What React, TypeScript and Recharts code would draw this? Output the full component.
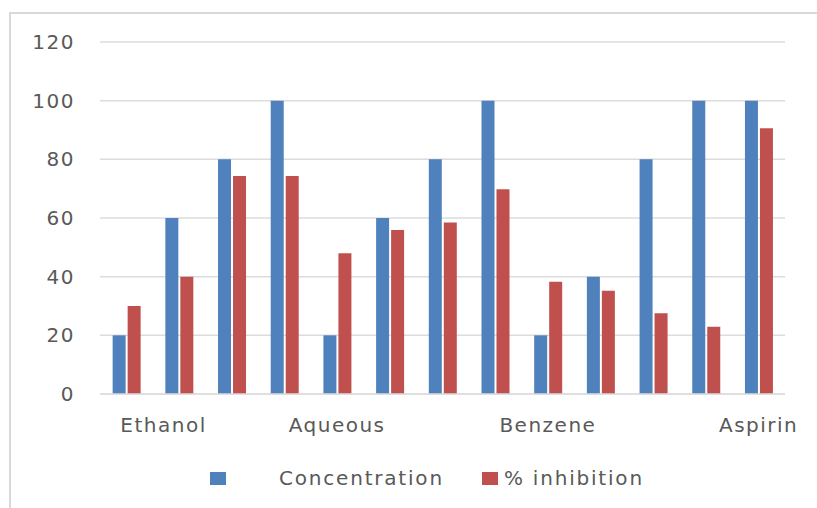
import { BarChart, Bar, XAxis, YAxis, CartesianGrid, Legend } from "recharts";

const categories = [
  "Ethanol", "", "", "",
  "Aqueous", "", "", "",
  "Benzene", "", "", "",
  "Aspirin",
];
const concentration = [20, 60, 80, 100, 20, 60, 80, 100, 20, 40, 80, 100, 100];
const inhibition = [30, 40, 74.3, 74.3, 48, 55.9, 58.5, 69.8, 38.3, 35.2, 27.5, 22.9, 90.6];
const yTicks = [0, 20, 40, 60, 80, 100, 120];

const colors = { conc: "#4F81BD", inh: "#C0504D", grid: "#DCDCDC", text: "#595959" };
const font = { fontFamily: "DejaVu Sans", fontSize: 20, letterSpacing: 1.5 };

const data = categories.map((name, i) => ({
  name: name || `c${i}`,
  label: name,
  concentration: concentration[i],
  inhibition: inhibition[i],
}));

// Excel-ish category tick; first label is pushed inside the plot
function CatTick({ x, y, index }: any) {
  const label = data[index]?.label;
  if (!label) return null;
  const first = index === 0;
  return (
    <text
      x={x}
      y={y}
      dx={first ? -6 : 0}
      dy={38}
      textAnchor={first ? "start" : "middle"}
      fill={colors.text}
      style={font}
    >
      {label}
    </text>
  );
}

function LegendBox() {
  const sw = (c: string): React.CSSProperties => ({
    display: "inline-block",
    width: 16,
    height: 13,
    background: c,
  });
  return (
    <div
      style={{
        display: "flex",
        alignItems: "center",
        paddingLeft: 210,
        height: 20,
        color: colors.text,
        ...font,
        letterSpacing: 1.8,
      }}
    >
      <span style={sw(colors.conc)} />
      <span style={{ marginLeft: 53 }}>Concentration</span>
      <span style={{ ...sw(colors.inh), marginLeft: 38 }} />
      <span style={{ marginLeft: 6 }}>% inhibition</span>
    </div>
  );
}

export default function App() {
  return (
    <div
      style={{
        position: "absolute",
        left: 0,
        top: 0,
        width: 817,
        height: 508,
        overflow: "hidden",
        background: "#fff",
      }}
    >
      {/* outer chart frame */}
      <div
        style={{
          position: "absolute",
          left: 9,
          top: 12,
          width: 900,
          height: 600,
          border: "2px solid #D9D9D9",
        }}
      />
      <div style={{ position: "absolute", left: 0, top: 0 }}>
        <BarChart
          width={817}
          height={508}
          data={data}
          margin={{ top: 42, right: 32, bottom: 0, left: 0 }}
          barCategoryGap="24%"
          barGap={2}
        >
          <CartesianGrid vertical={false} stroke={colors.grid} strokeWidth={1.5} />
          <XAxis
            dataKey="name"
            interval={0}
            height={74}
            tickSize={0}
            tickMargin={0}
            tickLine={false}
            axisLine={{ stroke: colors.grid, strokeWidth: 1.5 }}
            tick={<CatTick />}
          />
          <YAxis
            width={100}
            domain={[0, 120]}
            ticks={yTicks}
            tickSize={0}
            tickMargin={25}
            tickLine={false}
            axisLine={false}
            tick={{ fill: colors.text, ...font }}
          />
          <Legend
            verticalAlign="bottom"
            content={<LegendBox />}
            wrapperStyle={{ height: 40, left: 0, width: 817 }}
          />
          <Bar
            name="Concentration"
            dataKey="concentration"
            fill={colors.conc}
            isAnimationActive={false}
          />
          <Bar
            name="% inhibition"
            dataKey="inhibition"
            fill={colors.inh}
            isAnimationActive={false}
          />
        </BarChart>
      </div>
    </div>
  );
}
